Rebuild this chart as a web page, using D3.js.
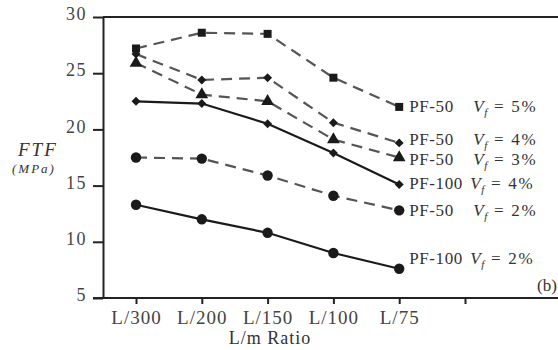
<!DOCTYPE html>
<html>
<head>
<meta charset="utf-8">
<script src="https://cdn.jsdelivr.net/npm/d3@7"></script>
<style>
  body { margin: 0; background: #fff; }
  svg text { font-family: "Liberation Serif", "DejaVu Serif", serif; fill: #333; }
</style>
</head>
<body>
<div id="chart"></div>
<script>
const categories = ["L/300", "L/200", "L/150", "L/100", "L/75", ""];
const yTicks = [5, 10, 15, 20, 25, 30];

const pf50_5 = [27.2, 28.6, 28.5, 24.6, 22.0];
const pf50_4 = [26.7, 24.4, 24.6, 20.6, 18.8];
const pf50_3 = [25.9, 23.1, 22.5, 19.1, 17.5];
const pf100_4 = [22.5, 22.3, 20.5, 17.9, 15.1];
const pf50_2 = [17.5, 17.4, 15.9, 14.1, 12.8];
const pf100_2 = [13.3, 12.0, 10.8, 9.0, 7.6];

const series = [
  { name: "PF-50", vf: "5%", values: pf50_5, symbol: "square", dashed: true, nudge: 5 },
  { name: "PF-50", vf: "4%", values: pf50_4, symbol: "diamond", dashed: true, nudge: 2 },
  { name: "PF-50", vf: "3%", values: pf50_3, symbol: "triangle", dashed: true, nudge: 7 },
  { name: "PF-100", vf: "4%", values: pf100_4, symbol: "diamond", dashed: false, nudge: 5 },
  { name: "PF-50", vf: "2%", values: pf50_2, symbol: "circle", dashed: true, nudge: 6 },
  { name: "PF-100", vf: "2%", values: pf100_2, symbol: "circle", dashed: false, nudge: -5 }
];

const width = 558, height = 350;
const margin = { top: 17, right: 0, bottom: 52, left: 103 };

const svg = d3.select("#chart").append("svg")
  .attr("width", width).attr("height", height);

const x = d3.scalePoint().domain(categories)
  .range([136, 465]);
const y = d3.scaleLinear().domain([5, 30])
  .range([height - margin.bottom, margin.top]);

// top frame line
svg.append("line").attr("x1", margin.left).attr("x2", width)
  .attr("y1", y(30)).attr("y2", y(30))
  .attr("stroke", "#222").attr("stroke-width", 2);

const xAxis = svg.append("g")
  .attr("transform", "translate(0," + y(5) + ")")
  .call(d3.axisBottom(x).tickSize(6).tickSizeOuter(0));
xAxis.attr("font-family", null).attr("font-size", null);
xAxis.select(".domain").attr("d", "M" + (margin.left - 10) + ",0H" + width)
  .attr("stroke", "#222").attr("stroke-width", 2);
xAxis.selectAll(".tick line").attr("stroke", "#222").attr("stroke-width", 2);
xAxis.selectAll(".tick text").attr("y", 12).attr("dy", "0.75em")
  .style("font-size", "19px").style("letter-spacing", "1px").style("fill", "#444");

const yAxis = svg.append("g")
  .attr("transform", "translate(" + margin.left + ",0)")
  .call(d3.axisLeft(y).tickValues(yTicks).tickSize(10).tickSizeOuter(0));
yAxis.attr("font-family", null).attr("font-size", null);
yAxis.select(".domain").attr("stroke", "#222").attr("stroke-width", 2);
yAxis.selectAll(".tick line").attr("stroke", "#222").attr("stroke-width", 2);
yAxis.selectAll(".tick text").attr("x", -16).attr("dy", "0.15em")
  .style("font-size", "18px").style("letter-spacing", "1.5px").style("fill", "#444");

const line = d3.line()
  .x((d, i) => x(categories[i]))
  .y(d => y(d));

const symbolOf = {
  square: { type: d3.symbolSquare, size: 64, rot: 0 },
  diamond: { type: d3.symbolSquare, size: 40, rot: 45 },
  triangle: { type: d3.symbolTriangle, size: 70, rot: 0 },
  circle: { type: d3.symbolCircle, size: 85, rot: 0 }
};

series.forEach(s => {
  const color = s.dashed ? "#555" : "#1a1a1a";
  svg.append("path").datum(s.values)
    .attr("fill", "none")
    .attr("stroke", color)
    .attr("stroke-width", 2.2)
    .attr("stroke-dasharray", s.dashed ? "11,7" : null)
    .attr("d", line);
  const sym = symbolOf[s.symbol];
  svg.selectAll(null).data(s.values).enter().append("path")
    .attr("transform", (d, i) => "translate(" + x(categories[i]) + "," + y(d) + ") rotate(" + sym.rot + ")")
    .attr("d", d3.symbol().type(sym.type).size(sym.size))
    .attr("fill", "#1a1a1a");

  const last = s.values[s.values.length - 1];
  const lbl = svg.append("text")
    .attr("x", x("L/75") + 10)
    .attr("y", y(last) + s.nudge)
    .style("font-size", "17px").style("letter-spacing", "0.6px");
  lbl.append("tspan").text(s.name);
  lbl.append("tspan").attr("x", x("L/75") + (s.name === "PF-50" ? 74 : 71))
    .style("font-style", "italic").text("V");
  lbl.append("tspan").style("font-style", "italic").style("font-size", "11px")
    .attr("dy", 4).text("f");
  lbl.append("tspan").attr("dy", -4).style("letter-spacing", "1.8px")
    .text(" = " + s.vf);
});

svg.append("text").attr("x", 537).attr("y", 291)
  .style("font-size", "17px").text("(b)");

svg.append("text").attr("x", 18).attr("y", 156)
  .style("font-size", "19px").style("font-style", "italic")
  .style("letter-spacing", "2px").text("FTF");
svg.append("text").attr("x", 12).attr("y", 173)
  .style("font-size", "13px").style("font-style", "italic")
  .style("letter-spacing", "2px").text("(MPa)");

svg.append("text").attr("x", 270).attr("y", 344)
  .attr("text-anchor", "middle").style("font-size", "18px")
  .style("letter-spacing", "1px").text("L/m Ratio");
</script>
</body>
</html>
